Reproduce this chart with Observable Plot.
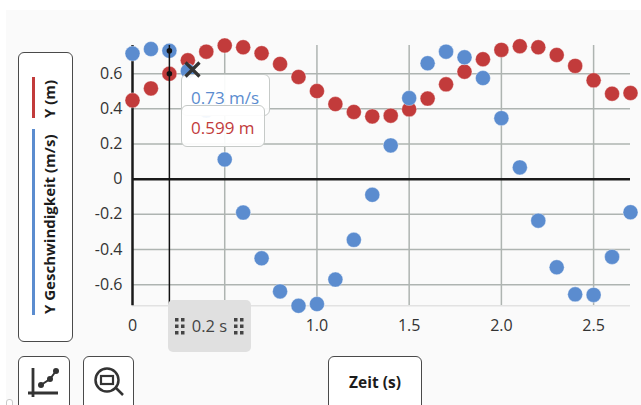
<!DOCTYPE html>
<html lang="de">
<head>
<meta charset="utf-8">
<script src="https://cdn.jsdelivr.net/npm/d3@7"></script>
<script src="https://cdn.jsdelivr.net/npm/@observablehq/plot@0.6"></script>
<style>
html,body{margin:0;padding:0;background:#fff;width:641px;height:405px;overflow:hidden;font-family:"Open Sans",sans-serif;}
#panel{position:absolute;left:6px;top:10px;right:0;bottom:0;background:#fafafa;}
#chart{position:absolute;left:0;top:0;}
#chart svg{background:transparent;display:block;}
.box{position:absolute;box-sizing:border-box;background:#fff;border:1.5px solid #4a4a4a;border-radius:6px;}
.tip{position:absolute;box-sizing:border-box;background:rgba(255,255,255,.93);border:1.5px solid #c6cac8;border-radius:6px;font-size:17px;line-height:1;}
.leg{position:absolute;font-weight:700;font-size:15px;color:#1c1c1c;white-space:nowrap;transform-origin:0 0;transform:rotate(-90deg);}
.bar{position:absolute;width:3px;}
</style>
</head>
<body>
<div id="panel"></div>
<div style="position:absolute;left:6px;top:399px;width:7px;height:12px;box-sizing:border-box;background:#fff;border:1px solid #c9c9c9;border-radius:3px"></div>
<div id="chart"></div>

<div class="box" style="left:18px;top:52px;width:55px;height:290px"></div>
<div class="bar" style="left:32px;top:77px;height:41px;background:#c23b3b"></div>
<div class="bar" style="left:32px;top:129px;height:186px;background:#5b8ccf"></div>
<div class="leg" style="left:38.5px;top:118px">Y (m)</div>
<div class="leg" style="left:38.5px;top:314px">Y Geschwindigkeit (m/s)</div>

<div class="box" style="left:18px;top:356px;width:52px;height:60px">
<svg width="52" height="50" style="position:absolute;left:-1.5px;top:-1.5px">
<g fill="none" stroke="#333" stroke-width="2.8"><path d="M15 12V41M10 37H40"/><path d="M23 29L32 23L38 15" stroke-width="2"/></g>
<g fill="#333"><circle cx="23" cy="29" r="3"/><circle cx="32" cy="23" r="3"/><circle cx="38" cy="15" r="3"/></g>
</svg></div>
<div class="box" style="left:83px;top:356px;width:51px;height:60px">
<svg width="51" height="50" style="position:absolute;left:-1.5px;top:-1.5px">
<g fill="none" stroke="#333" stroke-width="2.500"><circle cx="24" cy="24" r="11.500"/><rect x="18" y="20" width="12" height="8" stroke-width="2.200"/><path d="M32 31L40 39"/></g>
</svg></div>
<div class="box" style="left:328px;top:356px;width:94px;height:60px;font-weight:700;font-size:15.5px;color:#1c1c1c;text-align:center;line-height:51px">Zeit (s)</div>

<div style="position:absolute;left:168px;top:300px;width:83px;height:52px;background:#e0e0e0;border-radius:5px;color:#444;font-size:16.5px;text-align:center;line-height:51px">0.2 s
<svg width="83" height="52" style="position:absolute;left:0;top:0" fill="#444">
<g id="h"><rect x="7" y="18" width="3.500" height="3.500"/><rect x="13" y="18" width="3.500" height="3.500"/><rect x="7" y="24.500" width="3.500" height="3.500"/><rect x="13" y="24.500" width="3.500" height="3.500"/><rect x="7" y="31" width="3.500" height="3.500"/><rect x="13" y="31" width="3.500" height="3.500"/></g>
<use href="#h" x="59"/>
</svg></div>

<div class="tip" style="left:181px;top:74px;width:89px;height:42px;color:#5b8ccf;padding:14px 0 0 9px">0.73 m/s</div>
<div class="tip" style="left:181px;top:105px;width:84px;height:42px;color:#c23b3b;padding:13px 0 0 9px">0.599 m</div>
<svg width="20" height="20" style="position:absolute;left:183px;top:60px"><path d="M2.500 2.500L16.500 16.500M16.500 2.500L2.500 16.500" stroke="#333" stroke-width="3.200" fill="none"/></svg>

<script>
const times = [0,0.1,0.2,0.3,0.4,0.5,0.6,0.7,0.8,0.9,1.0,1.1,1.2,1.3,1.4,1.5,1.6,1.7,1.8,1.9,2.0,2.1,2.2,2.3,2.4,2.5,2.6,2.7];
const velocity = [0.714,0.74,0.73,0.615,0.39,0.112,-0.19,-0.45,-0.638,-0.72,-0.71,-0.571,-0.345,-0.089,0.192,0.461,0.659,0.725,0.693,0.575,0.347,0.067,-0.236,-0.501,-0.655,-0.658,-0.442,-0.188];
const position = [0.448,0.516,0.599,0.676,0.725,0.76,0.75,0.716,0.655,0.581,0.501,0.427,0.382,0.357,0.361,0.397,0.458,0.539,0.611,0.682,0.735,0.756,0.75,0.706,0.644,0.562,0.486,0.49];
const gridX = [0.5,1,1.5,2,2.5];
const xTickLabels = [0,1,1.5,2,2.5];
const yTicks = [-0.6,-0.4,-0.2,0,0.2,0.4,0.6];
const cursorTime = 0.2;
const cursorValues = [0.73,0.599];
const blue = "#5b8ccf", red = "#c23b3b", grid = "#aeb4b1";

const fmt = d => d === 0 ? "0" : d.toFixed(1);
const vel = times.map((t,i)=>({t,v:velocity[i]}));
const pos = times.map((t,i)=>({t,v:position[i]}));

const chart = Plot.plot({
  width:641, height:405,
  marginLeft:132, marginRight:11, marginTop:45, marginBottom:99.7,
  style:{background:"transparent",fontFamily:"'Open Sans',sans-serif",fontSize:"16px",color:"#333",overflow:"visible"},
  x:{domain:[0,2.7],label:null},
  y:{domain:[-0.72,0.76],label:null},
  marks:[
    Plot.ruleX(gridX,{stroke:grid,strokeWidth:1.500}),
    Plot.ruleY(yTicks.filter(d=>d!==0),{stroke:grid,strokeWidth:1.500}),
    Plot.ruleY([-0.72],{stroke:"#e2e2e2",strokeWidth:1.500}),
    Plot.ruleX([0],{stroke:"#1a1a1a",strokeWidth:2.500}),
    Plot.ruleY([0],{stroke:"#1a1a1a",strokeWidth:2.500}),
    Plot.axisX({ticks:xTickLabels,tickFormat:fmt,tickSize:0,tickPadding:14,fontSize:16,label:null,fill:"#333"}),
    Plot.axisY({ticks:yTicks,tickFormat:fmt,tickSize:0,tickPadding:10,fontSize:16,label:null,fill:"#333"}),
    Plot.dot(pos,{x:"t",y:"v",r:7.500,fill:red,stroke:"#fff",strokeOpacity:.35,strokeWidth:1}),
    Plot.dot(vel,{x:"t",y:"v",r:7.500,fill:blue,stroke:"#fff",strokeOpacity:.35,strokeWidth:1}),
    Plot.ruleX([cursorTime],{stroke:"#111",strokeWidth:1.500}),
    Plot.dot(cursorValues,{x:()=>cursorTime,y:d=>d,r:2.800,fill:"#111"})
  ]
});
document.getElementById("chart").appendChild(chart);
</script>
</body>
</html>
